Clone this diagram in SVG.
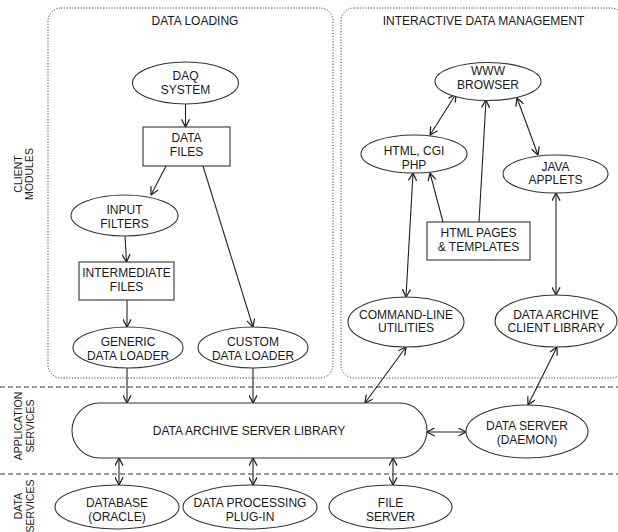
<svg xmlns="http://www.w3.org/2000/svg" width="618" height="532" viewBox="0 0 618 532">
<defs>
<marker id="ah" viewBox="0 0 10 10" refX="9.5" refY="5" markerWidth="9" markerHeight="9" markerUnits="userSpaceOnUse" orient="auto-start-reverse">
<path d="M1,0.5 L9.5,5 L1,9.5" fill="none" stroke="#222" stroke-width="1.4"/>
</marker>
<style>
text{font-family:"Liberation Sans",Arial,sans-serif;font-size:12px;fill:#1a1a1a;text-anchor:middle}
.side{font-size:10.5px}
.node{fill:#fff;stroke:#333;stroke-width:1.1}
.zone{fill:none;stroke:#444;stroke-width:1;stroke-dasharray:1.2,1.6}
.sep{fill:none;stroke:#333;stroke-width:1;stroke-dasharray:5,3}
.c{fill:none;stroke:#222;stroke-width:1.1}
.one{marker-end:url(#ah)}
.two{marker-start:url(#ah);marker-end:url(#ah)}
</style>
</defs>
<rect width="618" height="532" fill="#fff"/>

<g id="zones">
<rect class="zone" x="48" y="8" width="285" height="370" rx="13"/>
<rect class="zone" x="341" y="8" width="283" height="370" rx="13"/>
<line class="sep" x1="0" y1="387" x2="618" y2="387"/>
<line class="sep" x1="0" y1="474" x2="618" y2="474"/>
<text x="195" y="25">DATA LOADING</text>
<text x="483.5" y="25">INTERACTIVE DATA MANAGEMENT</text>
<text class="side" transform="translate(22,174) rotate(-90)">CLIENT</text>
<text class="side" transform="translate(33,174) rotate(-90)">MODULES</text>
<text class="side" transform="translate(22,426) rotate(-90)">APPLICATION</text>
<text class="side" transform="translate(34,426) rotate(-90)">SERVICES</text>
<text class="side" transform="translate(22,506) rotate(-90)">DATA</text>
<text class="side" transform="translate(34,506) rotate(-90)">SERVICES</text>
</g>

<g id="connectors">
<line class="c one" x1="185.5" y1="104" x2="185.5" y2="127"/>
<line class="c one" x1="166" y1="166" x2="151" y2="195"/>
<line class="c one" x1="203" y1="166" x2="253" y2="327"/>
<line class="c one" x1="125" y1="236" x2="126.5" y2="262"/>
<line class="c one" x1="127" y1="300" x2="127" y2="327"/>
<line class="c one" x1="127" y1="368" x2="127" y2="403"/>
<line class="c one" x1="253" y1="368" x2="253" y2="403"/>
<line class="c two" x1="456" y1="94" x2="430" y2="135"/>
<line class="c one" x1="479" y1="222" x2="486" y2="100"/>
<line class="c two" x1="517" y1="98" x2="538" y2="155"/>
<line class="c one" x1="443" y1="222" x2="430" y2="173"/>
<line class="c two" x1="406" y1="297" x2="413" y2="173"/>
<line class="c two" x1="556" y1="193" x2="556" y2="295"/>
<line class="c two" x1="406" y1="347" x2="365" y2="403"/>
<line class="c two" x1="557" y1="347" x2="528" y2="405"/>
<line class="c two" x1="427" y1="432" x2="466" y2="432"/>
<line class="c two" x1="119" y1="458" x2="119" y2="485"/>
<line class="c two" x1="253" y1="458" x2="253" y2="485"/>
<line class="c two" x1="393" y1="458" x2="393" y2="485"/>
</g>

<g id="daq"><ellipse class="node" cx="185.5" cy="83" rx="53" ry="21"/><text x="185.5" y="80">DAQ</text><text x="185.5" y="94">SYSTEM</text></g>
<g id="datafiles"><rect class="node" x="143" y="127" width="87" height="39"/><text x="186.5" y="142">DATA</text><text x="186.5" y="156">FILES</text></g>
<g id="inputfilters"><ellipse class="node" cx="124.5" cy="215.5" rx="53.5" ry="20.5"/><text x="124.5" y="214">INPUT</text><text x="124.5" y="228">FILTERS</text></g>
<g id="intermediate"><rect class="node" x="79" y="262" width="95" height="38"/><text x="126.5" y="277">INTERMEDIATE</text><text x="126.5" y="291">FILES</text></g>
<g id="generic"><ellipse class="node" cx="128" cy="347.5" rx="55" ry="20.5"/><text x="128" y="346">GENERIC</text><text x="128" y="359.5">DATA LOADER</text></g>
<g id="custom"><ellipse class="node" cx="253" cy="347.5" rx="55" ry="20.5"/><text x="253" y="346">CUSTOM</text><text x="253" y="359.5">DATA LOADER</text></g>
<g id="www"><ellipse class="node" cx="488" cy="81.5" rx="53" ry="19"/><text x="488" y="75">WWW</text><text x="488" y="88.5">BROWSER</text></g>
<g id="htmlcgi"><ellipse class="node" cx="414" cy="154" rx="53" ry="19"/><text x="414" y="155">HTML, CGI</text><text x="414" y="168.5">PHP</text></g>
<g id="java"><ellipse class="node" cx="555.5" cy="174" rx="52.5" ry="19"/><text x="555.5" y="171">JAVA</text><text x="555.5" y="183.5">APPLETS</text></g>
<g id="htmlpages"><rect class="node" x="427" y="222" width="103" height="38"/><text x="478.5" y="237">HTML PAGES</text><text x="478.5" y="251">&amp; TEMPLATES</text></g>
<g id="cmdline"><ellipse class="node" cx="406" cy="322" rx="58" ry="25"/><text x="406" y="319">COMMAND-LINE</text><text x="406" y="332">UTILITIES</text></g>
<g id="clientlib"><ellipse class="node" cx="556" cy="321" rx="61" ry="26"/><text x="556" y="319">DATA ARCHIVE</text><text x="556" y="332">CLIENT LIBRARY</text></g>
<g id="serverlib"><rect class="node" x="72" y="403" width="355" height="55" rx="27.5"/><text x="249" y="435">DATA ARCHIVE SERVER LIBRARY</text></g>
<g id="dataserver"><ellipse class="node" cx="527" cy="431.5" rx="61" ry="26.5"/><text x="527" y="430">DATA SERVER</text><text x="527" y="444">(DAEMON)</text></g>
<g id="database"><ellipse class="node" cx="117" cy="507" rx="62" ry="22"/><text x="117" y="507">DATABASE</text><text x="117" y="520.5">(ORACLE)</text></g>
<g id="plugin"><ellipse class="node" cx="250" cy="507" rx="67" ry="22"/><text x="250" y="507">DATA PROCESSING</text><text x="250" y="520.5">PLUG-IN</text></g>
<g id="fileserver"><ellipse class="node" cx="390.5" cy="507" rx="61.5" ry="22"/><text x="390.5" y="507">FILE</text><text x="390.5" y="520.5">SERVER</text></g>
</svg>
